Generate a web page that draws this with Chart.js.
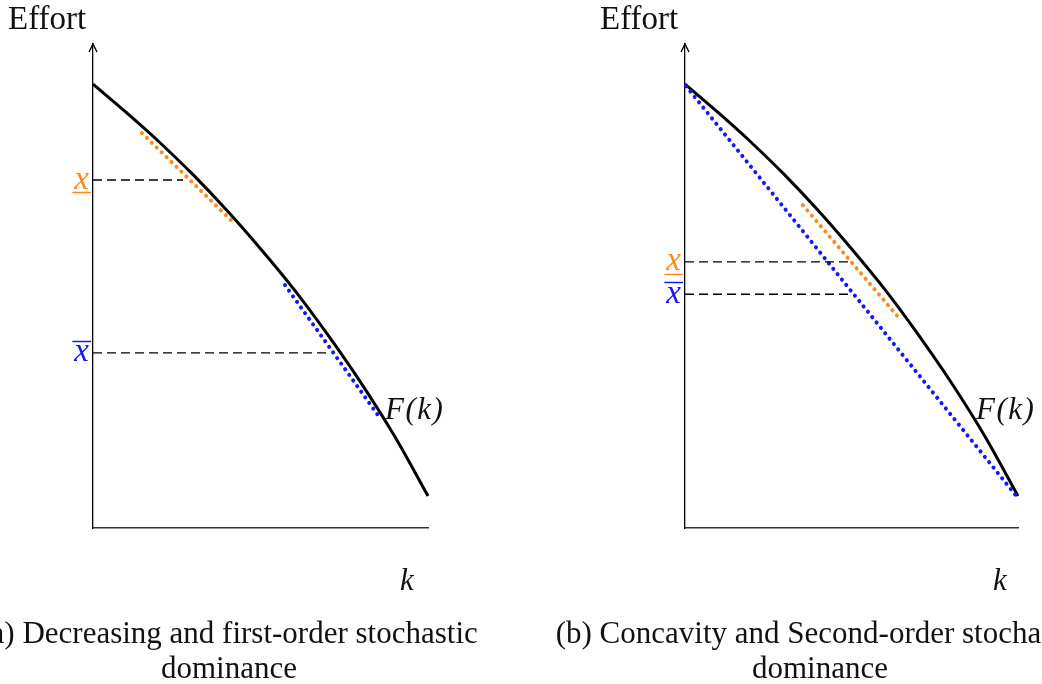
<!DOCTYPE html>
<html>
<head>
<meta charset="utf-8">
<script src="https://cdn.jsdelivr.net/npm/chart.js@4.4.1/dist/chart.umd.min.js"></script>
<style>
  body { margin: 0; background: #fff; }
  #wrap { position: relative; width: 1042px; height: 684px; overflow: hidden; }
  canvas { position: absolute; top: 0; }
  .txt { position: absolute; font-family: "Liberation Serif", serif; color: #111; white-space: nowrap; line-height: 1; }
  .it { font-style: italic; }
  .cap { font-size: 31px; text-align: center; width: 700px; }
</style>
</head>
<body>
<div id="wrap">
  <canvas id="left" width="521" height="684" style="left:0"></canvas>
  <canvas id="right" width="521" height="684" style="left:521px"></canvas>

  <div class="txt" style="left:8px;top:2px;font-size:33px">Effort</div>
  <div class="txt" style="left:600px;top:2px;font-size:33px">Effort</div>
  <div class="txt it" style="left:400px;top:564px;font-size:31px">k</div>
  <div class="txt it" style="left:993px;top:564px;font-size:31px">k</div>
  <div class="txt it" style="left:385px;top:393px;font-size:31px;letter-spacing:1.5px">F(k)</div>
  <div class="txt it" style="left:976px;top:393px;font-size:31px;letter-spacing:1.5px">F(k)</div>

  <div class="txt cap" style="left:-121px;top:617px">(a) Decreasing and first-order stochastic</div>
  <div class="txt cap" style="left:-121px;top:652px">dominance</div>
  <div class="txt cap" style="left:470px;top:617px">(b) Concavity and Second-order stochastic</div>
  <div class="txt cap" style="left:470px;top:652px">dominance</div>
</div>

<script>
// F(k), same curve in both panels (k and effort scaled 0..1)
const curveK = [0, 0.1, 0.2, 0.3, 0.4, 0.5, 0.6, 0.7, 0.8, 0.9, 1.0];
const curveEffort = [0.917, 0.858, 0.796, 0.729, 0.656, 0.577, 0.493, 0.400, 0.300, 0.190, 0.066];

// panel (a)
const aOrangeK = [0.146, 0.424];
const aOrangeE = [0.816, 0.628];
const aBlueK = [0.573, 0.857];
const aBlueE = [0.502, 0.227];
const aLevels = [0.719, 0.362];      // underline x, overline x
const aLevelEnds = [0.269, 0.699];

// panel (b)
const bOrangeK = [0.354, 0.640];
const bOrangeE = [0.667, 0.436];
const bBlueK = [0.003, 1.0];
const bBlueE = [0.913, 0.062];
const bLevels = [0.550, 0.483];
const bLevelEnds = [0.502, 0.502];

const ORANGE = '#ff8a1c';
const BLUE = '#1414ff';
const levelColors = [ORANGE, BLUE];
const levelMarks = ['under', 'over'];
const LABEL_FONT = 33;

function pts(xs, ys) {
  return xs.map((x, i) => ({x: x, y: ys[i]}));
}

function dotted(data, color) {
  return {
    data: data, showLine: true, pointRadius: 0, borderColor: color,
    borderWidth: 4, borderDash: [0.1, 6.8], borderCapStyle: 'round', clip: false
  };
}

function dashed(level, end) {
  return {
    data: [{x: 0, y: level}, {x: end, y: level}], showLine: true, pointRadius: 0,
    borderColor: '#000', borderWidth: 1.3, borderDash: [9, 5], clip: false
  };
}

const axisDecor = {
  id: 'axisDecor',
  afterDraw(chart) {
    const ctx = chart.ctx;
    const a = chart.chartArea;
    // arrow head on the effort axis
    ctx.save();
    ctx.strokeStyle = '#000';
    ctx.lineWidth = 1.4;
    ctx.beginPath();
    ctx.moveTo(a.left - 4, a.top + 8);
    ctx.lineTo(a.left, a.top);
    ctx.lineTo(a.left + 4, a.top + 8);
    ctx.stroke();
    // under / over bars for the x labels
    const ys = chart.scales.y;
    ctx.font = 'italic ' + LABEL_FONT + 'px "Liberation Serif"';
    const w = ctx.measureText('x').width;
    ys.ticks.forEach((t, i) => {
      const py = Math.round(ys.getPixelForValue(t.value));
      const off = levelMarks[i] === 'under' ? 12.5 : -11.5;
      ctx.strokeStyle = levelColors[i];
      ctx.lineWidth = 1.5;
      ctx.beginPath();
      ctx.moveTo(a.left - 4 - w - 2, py + off);
      ctx.lineTo(a.left - 2, py + off);
      ctx.stroke();
    });
    ctx.restore();
  }
};

function makePanel(id, plotLeft, plotRight, sets, levels) {
  new Chart(document.getElementById(id), {
    type: 'scatter',
    data: {datasets: sets},
    options: {
      responsive: false,
      animation: false,
      events: [],
      layout: {padding: {left: 0, top: 44, right: 521 - plotRight, bottom: 0}},
      plugins: {legend: {display: false}, tooltip: {enabled: false}},
      scales: {
        x: {
          min: 0, max: 1,
          grid: {display: false, drawTicks: false, tickLength: 0},
          ticks: {display: false},
          border: {display: true, color: '#333', width: 1.5},
          afterFit(s) { s.height = 684 - 528; }
        },
        y: {
          min: 0, max: 1,
          grid: {display: false, drawTicks: false, tickLength: 0},
          border: {display: true, color: '#000', width: 1.3},
          afterBuildTicks(s) { s.ticks = levels.map(v => ({value: v})); },
          afterFit(s) { s.width = plotLeft; },
          ticks: {
            autoSkip: false,
            padding: 4,
            callback: () => 'x',
            color: c => levelColors[c.index],
            font: {family: 'Liberation Serif', style: 'italic', size: LABEL_FONT}
          }
        }
      }
    },
    plugins: [axisDecor]
  });
}

function curveSet() {
  return {
    data: pts(curveK, curveEffort), showLine: true, pointRadius: 0,
    borderColor: '#000', borderWidth: 3, cubicInterpolationMode: 'monotone', clip: false
  };
}

makePanel('left', 93, 428, [
  dashed(aLevels[0], aLevelEnds[0]),
  dashed(aLevels[1], aLevelEnds[1]),
  dotted(pts(aOrangeK, aOrangeE), ORANGE),
  dotted(pts(aBlueK, aBlueE), BLUE),
  curveSet()
], aLevels);

makePanel('right', 164, 497, [
  dashed(bLevels[0], bLevelEnds[0]),
  dashed(bLevels[1], bLevelEnds[1]),
  dotted(pts(bOrangeK, bOrangeE), ORANGE),
  dotted(pts(bBlueK, bBlueE), BLUE),
  curveSet()
], bLevels);
</script>
</body>
</html>
